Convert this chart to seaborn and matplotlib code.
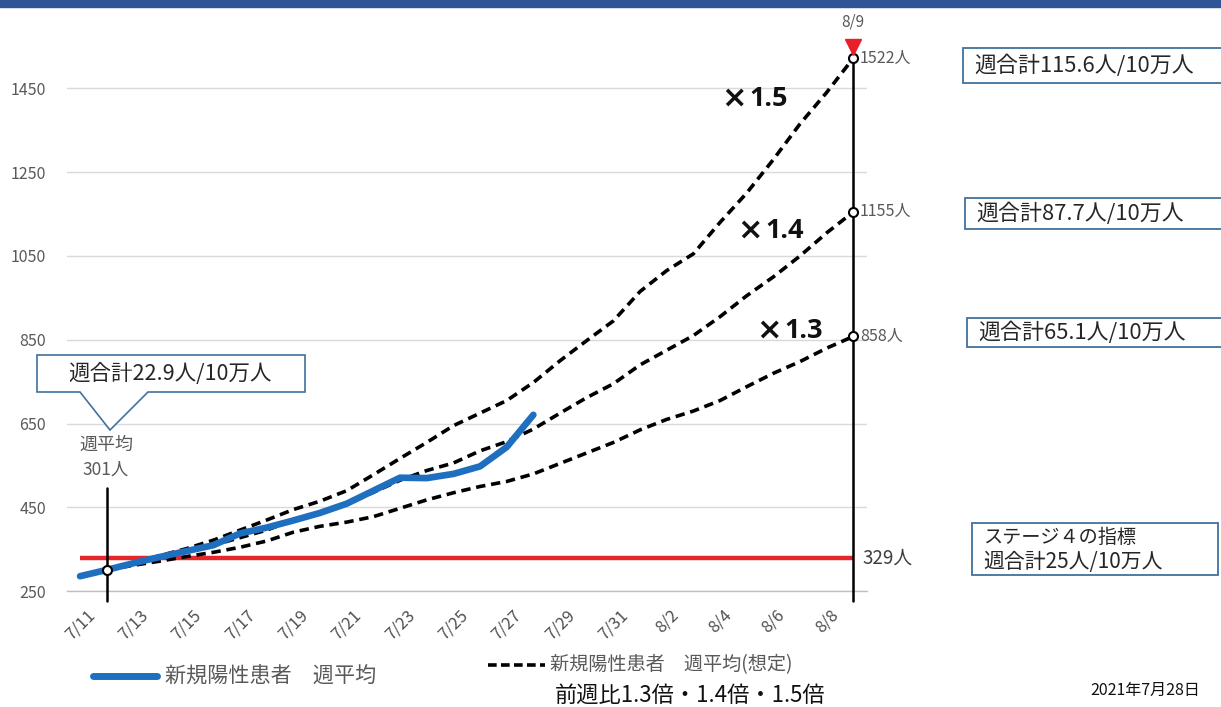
import matplotlib
matplotlib.use("Agg")
import matplotlib.pyplot as plt
import numpy as np
import pandas as pd
import seaborn as sns
from matplotlib.patches import Rectangle, Polygon
from matplotlib.lines import Line2D

# ---------------- data ----------------
dates = ["7/11", "7/12", "7/13", "7/14", "7/15", "7/16", "7/17", "7/18", "7/19", "7/20",
         "7/21", "7/22", "7/23", "7/24", "7/25", "7/26", "7/27", "7/28", "7/29", "7/30",
         "7/31", "8/1", "8/2", "8/3", "8/4", "8/5", "8/6", "8/7", "8/8", "8/9"]
tick_labels = ["7/11", "7/13", "7/15", "7/17", "7/19", "7/21", "7/23", "7/25",
               "7/27", "7/29", "7/31", "8/2", "8/4", "8/6", "8/8"]
# actual weekly average 7/11 - 7/28
actual = [286, 301, 317, 332, 346, 360, 388, 402, 419, 437, 459, 490, 521, 520,
          530, 548, 594, 671]
# projections 7/12 - 8/9
proj_13 = [301, 312, 322, 333, 343, 355, 370, 391, 405, 415, 428, 448, 468, 485, 500,
           512, 530, 555, 580, 605, 635, 660, 680, 705, 738, 770, 798, 830, 858]
proj_14 = [301, 316, 330, 344, 360, 378, 396, 420, 438, 458, 486, 515, 538, 556, 585,
           607, 637, 675, 712, 745, 790, 825, 860, 905, 955, 1000, 1050, 1105, 1155]
proj_15 = [301, 318, 335, 352, 372, 396, 420, 445, 465, 490, 528, 567, 605, 645, 675,
           705, 748, 800, 848, 895, 965, 1015, 1055, 1130, 1200, 1280, 1365, 1440, 1522]
stage4 = 329
yticks = [250, 450, 650, 850, 1050, 1250, 1450]
end_labels = ["1522人", "1155人", "858人"]
multipliers = ["1.5", "1.4", "1.3"]
box_texts = ["週合計115.6人/10万人", "週合計87.7人/10万人", "週合計65.1人/10万人"]

# ---------------- style ----------------
sns.set_theme(style="white")
plt.rcParams['font.family'] = ['Noto Sans CJK JP', 'DejaVu Sans']

W, H = 1221, 707
fig = plt.figure(figsize=(W / 100, H / 100), dpi=100)
fig.patch.set_facecolor("white")


def fx(x):
    return x / W


def fy(y):
    return 1 - y / H


ax = fig.add_axes([fx(66.7), fy(591.3), 800 / W, 545 / H])
ax.set_facecolor("white")

GRAY = "#595959"
BLUE = "#1F6FC0"
RED = "#E5262B"
BOX = "#41719C"

n = len(dates)
x_all = np.arange(n)
df_act = pd.DataFrame({"x": x_all[:len(actual)], "v": actual})
df_p = pd.DataFrame({"x": np.concatenate([x_all[1:]] * 3),
                     "v": proj_13 + proj_14 + proj_15,
                     "r": ["1.3"] * len(proj_13) + ["1.4"] * len(proj_14) + ["1.5"] * len(proj_15)})

# red stage-4 line
ax.plot([0, n - 1], [stage4, stage4], color=RED, lw=3.2, zorder=2, solid_capstyle="butt")

# projections
for r in ["1.3", "1.4", "1.5"]:
    sub = df_p[df_p["r"] == r]
    sns.lineplot(data=sub, x="x", y="v", ax=ax, color="black", lw=2.6, zorder=3)
    ax.lines[-1].set_dashes((2.6, 1.6))

# actual
sns.lineplot(data=df_act, x="x", y="v", ax=ax, color=BLUE, lw=4.8, zorder=4)
ax.lines[-1].set_solid_capstyle("round")
ax.lines[-1].set_solid_joinstyle("round")

# vertical lines
ax.plot([1, 1], [226, 497], color="black", lw=1.8, zorder=5, clip_on=False)
ax.plot([n - 1, n - 1], [226, 1542], color="black", lw=1.8, zorder=5, clip_on=False)

# circle markers
ax.plot([1], [actual[1]], marker="o", ms=6.5, mfc="white", mec="black", mew=1.5,
        zorder=6, clip_on=False, ls="none")
ends = [proj_15[-1], proj_14[-1], proj_13[-1]]
ax.plot([n - 1] * 3, ends, marker="o", ms=6.5, mfc="white", mec="black", mew=1.5,
        zorder=6, clip_on=False, ls="none")
ax.plot([n - 1], [1549], marker="v", ms=11, color="#E8202A", zorder=6, clip_on=False, ls="none")

for lab, v in zip(end_labels, ends):
    ax.text(n - 1 + 0.25, v, lab, color=GRAY, fontsize=11.5, va="center", ha="left")
ax.text(n - 1 + 0.35, stage4, f"{stage4}人", color="#404040", fontsize=13.5, va="center", ha="left")

# axes formatting
ax.set_xlim(-0.5, n - 0.5)
ax.set_ylim(250, 1550)
ax.set_yticks(yticks)
ax.set_yticklabels([str(t) for t in yticks])
ax.set_xticks(np.arange(0, n - 1, 2))
ax.set_xticklabels(tick_labels, rotation=45, ha="center", va="top")
ax.set_xticks(np.arange(-0.5, n, 2), minor=True)
ax.tick_params(axis="x", which="major", length=0, pad=11, labelsize=12, labelcolor="#505050")
ax.tick_params(axis="x", which="minor", length=6, width=1, color="#BFBFBF", direction="out")
ax.tick_params(axis="y", length=0, pad=15, labelsize=11.5, labelcolor=GRAY)
ax.set_xlabel("")
ax.set_ylabel("")
ax.yaxis.grid(True, color="#D9D9D9", lw=1)
ax.xaxis.grid(False)
for s in ["left", "right", "top"]:
    ax.spines[s].set_visible(False)
ax.spines["bottom"].set_color("#BFBFBF")
ax.spines["bottom"].set_linewidth(1)
ax.set_axisbelow(True)

# header bar
fig.patches.append(Rectangle((0, fy(7)), 1, 7 / H, transform=fig.transFigure,
                             color="#2F5597", zorder=10))

# 8/9 label
fig.text(fx(853), fy(22), "8/9", color=GRAY, fontsize=11, ha="center", va="center")

# multiplier labels
for t, (px, py) in zip(multipliers, [(722, 98), (738, 230), (757, 330)]):
    fig.text(fx(px - 1), fy(py), "×", fontsize=22, color="#111111",
             family=["DejaVu Sans"], fontweight="bold", ha="left", va="center")
    fig.text(fx(px + 27), fy(py + 1), t, fontsize=19.5, fontweight="bold", color="#111111",
             family=["Open Sans", "DejaVu Sans"], ha="left", va="center")

# callout box at left
pts = [(37, 355), (305, 355), (305, 392), (148, 392), (110, 430), (80, 392), (37, 392)]
fig.patches.append(Polygon([(fx(a), fy(b)) for a, b in pts], closed=True,
                           transform=fig.transFigure, facecolor="white",
                           edgecolor=BOX, lw=1.2, zorder=8))
fig.text(fx(170), fy(374), "週合計22.9人/10万人", fontsize=15.5, color="#262626",
         ha="center", va="center", zorder=9)
fig.text(fx(106), fy(445), "週平均", fontsize=13, color=GRAY, ha="center", va="center")
fig.text(fx(106), fy(470), "301人", fontsize=12.5, color=GRAY, ha="center", va="center")

# right-side boxes
for t, (x0, y0, y1) in zip(box_texts, [(963, 48, 83), (965, 198, 229), (967, 318, 347)]):
    fig.patches.append(Rectangle((fx(x0), fy(y1)), fx(1240 - x0), (y1 - y0) / H,
                                 transform=fig.transFigure, facecolor="white",
                                 edgecolor=BOX, lw=1.3, zorder=8))
    fig.text(fx(x0 + 11), fy((y0 + y1) / 2), t, fontsize=15.8, color="#262626",
             ha="left", va="center", zorder=9)

fig.patches.append(Rectangle((fx(972), fy(575)), fx(1218 - 972), 52 / H,
                             transform=fig.transFigure, facecolor="white",
                             edgecolor=BOX, lw=1.3, zorder=8))
fig.text(fx(983), fy(537), "ステージ４の指標", fontsize=13.8, color="#262626",
         ha="left", va="center", zorder=9)
fig.text(fx(983), fy(562), "週合計25人/10万人", fontsize=15, color="#262626",
         ha="left", va="center", zorder=9)

# legend
fig.lines.append(Line2D([fx(93), fx(157)], [fy(676), fy(676)], transform=fig.transFigure,
                        color=BLUE, lw=5, solid_capstyle="round"))
fig.text(fx(165), fy(676), "新規陽性患者　週平均", fontsize=15.2, color=GRAY,
         ha="left", va="center")
l2 = Line2D([fx(488), fx(545)], [fy(665), fy(665)], transform=fig.transFigure,
            color="black", lw=2.6)
l2.set_dashes((2.4, 1.2))
fig.lines.append(l2)
fig.text(fx(550), fy(665), "新規陽性患者　週平均(想定)", fontsize=13.8, color=GRAY,
         ha="left", va="center")
fig.text(fx(555), fy(695), "前週比1.3倍・1.4倍・1.5倍", fontsize=16, color="#111111",
         ha="left", va="center")
fig.text(fx(1090), fy(690), "2021年7月28日", fontsize=11.5, color="#111111",
         ha="left", va="center")

fig.savefig("out.png", dpi=100, facecolor="white")
